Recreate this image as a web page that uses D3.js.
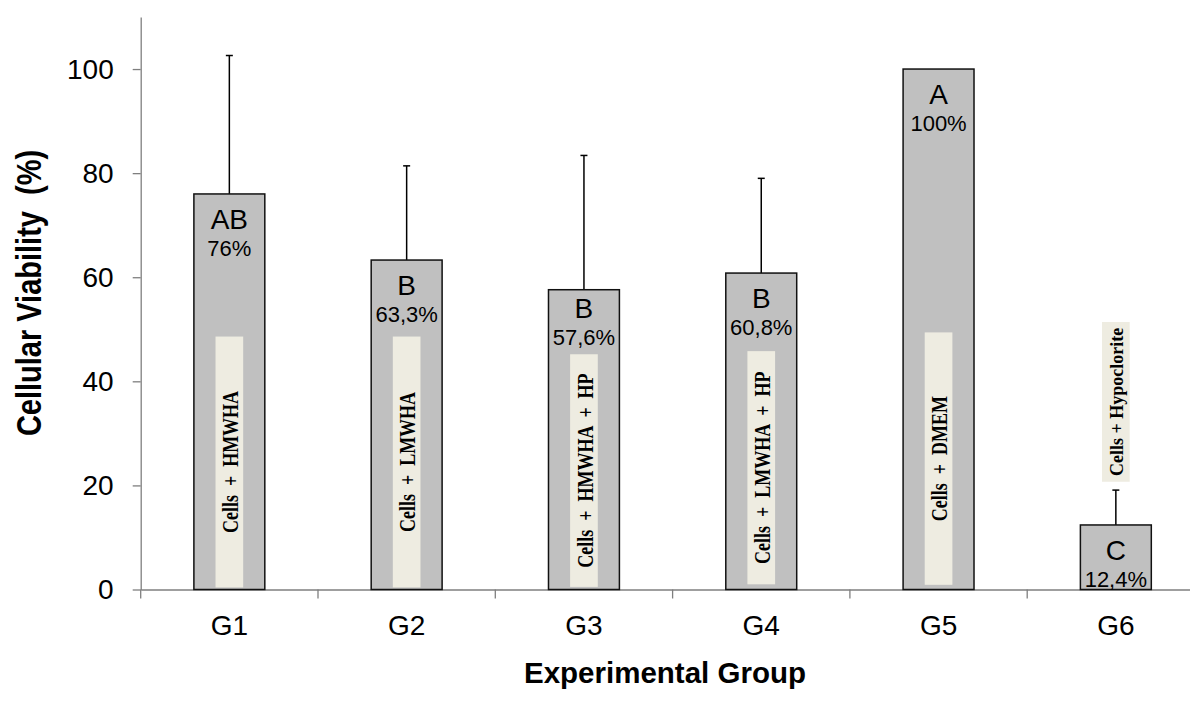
<!DOCTYPE html>
<html lang="en">
  <head>
    <meta charset="utf-8">
    <title>Cellular Viability</title>
    <script src="https://d3js.org/d3.v7.min.js"></script>
    <style media="screen">
      body{
        margin: 0;
        background: #fff;
      }
      .axis text{
        font-family: "Liberation Sans", Arial, sans-serif;
        fill: #000;
      }
      .inbox{
        white-space: pre;
      }
    </style>
  </head>
  <body>
    <script type="text/javascript">

      // data
      let groups   = ["G1", "G2", "G3", "G4", "G5", "G6"];
      let values   = [76, 63.3, 57.6, 60.8, 100, 12.4];
      let errTop   = [102.6, 81.4, 83.4, 79, 100, 19.1];
      let letters  = ["AB", "B", "B", "B", "A", "C"];
      let pctText  = ["76%", "63,3%", "57,6%", "60,8%", "100%", "12,4%"];
      let treatments = ["Cells  +  HMWHA", "Cells  +  LMWHA", "Cells  +  HMWHA  +  HP",
                        "Cells  +  LMWHA  +  HP", "Cells  +  DMEM", "Cells + Hypoclorite"];
      // extent of the treatment label boxes, in axis units
      let boxHi    = [48.6, 48.6, 45.2, 45.8, 49.4, 51.4];
      let boxLo    = [0.4, 0.4, 0.5, 1.0, 0.9, 20.7];
      let yTicks   = [0, 20, 40, 60, 80, 100];

      let W = 1190, H = 702;
      let margin = {top: 17, left: 140.7, bottom: 112.5};

      let svg = d3.select("body").append("svg")
                  .attr("width", W)
                  .attr("height", H);

      let x = d3.scaleBand()
                .domain(groups)
                .range([margin.left, margin.left + 6 * 177.3])
                .paddingInner(0.6)
                .paddingOuter(0.3);

      let y = d3.scaleLinear()
                .domain([0, 110])
                .range([H - margin.bottom, margin.top]);

      // y axis
      let yAxis = svg.append("g")
                     .attr("class", "axis")
                     .attr("transform", "translate(" + margin.left + ",0)")
                     .call(d3.axisLeft(y).tickValues(yTicks).tickSize(8).tickPadding(19).tickSizeOuter(0));
      yAxis.selectAll("text").style("font-size", "28px");
      yAxis.selectAll("line, path").attr("stroke", "#7f7f7f").attr("stroke-width", 1.3);

      // x axis: labels in the middle, ticks between groups
      let xAxis = svg.append("g")
                     .attr("class", "axis")
                     .attr("transform", "translate(0," + y(0) + ")")
                     .call(d3.axisBottom(x).tickSize(0).tickPadding(26).tickSizeOuter(0));
      xAxis.selectAll("text").style("font-size", "28px");
      xAxis.select(".domain").attr("stroke", "#7f7f7f").attr("stroke-width", 1.3);

      let bounds = groups.map(function(g){ return x(g) + x.bandwidth() / 2 - x.step() / 2; });
      xAxis.selectAll(".sep")
           .data(bounds)
           .enter()
           .append("line")
           .attr("x1", function(d){ return d; })
           .attr("x2", function(d){ return d; })
           .attr("y1", 0)
           .attr("y2", 9)
           .attr("stroke", "#7f7f7f")
           .attr("stroke-width", 1.3);

      // axis titles
      svg.append("text")
         .attr("transform", "translate(29," + 293 + ") rotate(-90) scale(1,1.2)")
         .attr("text-anchor", "middle")
         .attr("dominant-baseline", "central")
         .style("font-family", "'Liberation Sans', Arial, sans-serif")
         .style("font-weight", "bold")
         .style("font-size", "29px")
         .style("white-space", "pre")
         .text("Cellular Viability  (%)");

      svg.append("text")
         .attr("x", 665)
         .attr("y", 683)
         .attr("text-anchor", "middle")
         .style("font-family", "'Liberation Sans', Arial, sans-serif")
         .style("font-weight", "bold")
         .style("font-size", "29.5px")
         .text("Experimental Group");

      let rows = groups.map(function(g, i){
        return {g: g, v: values[i], e: errTop[i], letter: letters[i], pct: pctText[i],
                label: treatments[i], hi: boxHi[i], lo: boxLo[i]};
      });

      let bars = svg.selectAll(".bar")
                    .data(rows)
                    .enter()
                    .append("g")
                    .attr("class", "bar");

      let cx = function(d){ return x(d.g) + x.bandwidth() / 2; };

      // error bars (upper only)
      bars.filter(function(d){ return d.e > d.v; })
          .append("line")
          .attr("x1", cx).attr("x2", cx)
          .attr("y1", function(d){ return y(d.v); })
          .attr("y2", function(d){ return y(d.e); })
          .attr("stroke", "#000")
          .attr("stroke-width", 1.5);
      bars.filter(function(d){ return d.e > d.v; })
          .append("line")
          .attr("x1", function(d){ return cx(d) - 3.5; })
          .attr("x2", function(d){ return cx(d) + 3.5; })
          .attr("y1", function(d){ return y(d.e); })
          .attr("y2", function(d){ return y(d.e); })
          .attr("stroke", "#000")
          .attr("stroke-width", 1.5);

      bars.append("rect")
          .attr("x", function(d){ return x(d.g); })
          .attr("y", function(d){ return y(d.v); })
          .attr("width", x.bandwidth())
          .attr("height", function(d){ return y(0) - y(d.v); })
          .attr("fill", "#c0c0c0")
          .attr("stroke", "#111")
          .attr("stroke-width", 1.5);

      // treatment label boxes
      let bw = x.bandwidth() * 0.39;
      bars.append("rect")
          .attr("x", function(d){ return cx(d) - bw / 2; })
          .attr("y", function(d){ return y(d.hi); })
          .attr("width", bw)
          .attr("height", function(d){ return y(d.lo) - y(d.hi); })
          .attr("fill", "#eeece1");

      bars.append("text")
          .attr("class", "inbox")
          .attr("transform", function(d){
              let s = d.hi <= d.v ? 1.25 : 1;   // labels sitting inside the bar look stretched
              return "translate(" + (cx(d) + 1) + "," + (y((d.hi + d.lo) / 2)) + ") rotate(-90) scale(1," + s + ")";
          })
          .attr("text-anchor", "middle")
          .attr("dominant-baseline", "central")
          .style("font-family", "'Liberation Serif', 'Times New Roman', serif")
          .style("font-weight", "bold")
          .style("font-size", "18px")
          .text(function(d){ return d.label; });

      // significance letters and percentages, kept clear of the label box
      let pctY = function(d){
        let p = y(d.v) + 62;
        if (d.hi <= d.v) p = Math.min(p, y(d.hi) - 9);
        return p;
      };

      bars.append("text")
          .attr("x", cx)
          .attr("y", function(d){ return pctY(d) - 27; })
          .attr("text-anchor", "middle")
          .style("font-family", "'Liberation Sans', Arial, sans-serif")
          .style("font-size", "28px")
          .text(function(d){ return d.letter; });

      bars.append("text")
          .attr("x", cx)
          .attr("y", pctY)
          .attr("text-anchor", "middle")
          .style("font-family", "'Liberation Sans', Arial, sans-serif")
          .style("font-size", "22px")
          .text(function(d){ return d.pct; });

    </script>
  </body>
</html>
